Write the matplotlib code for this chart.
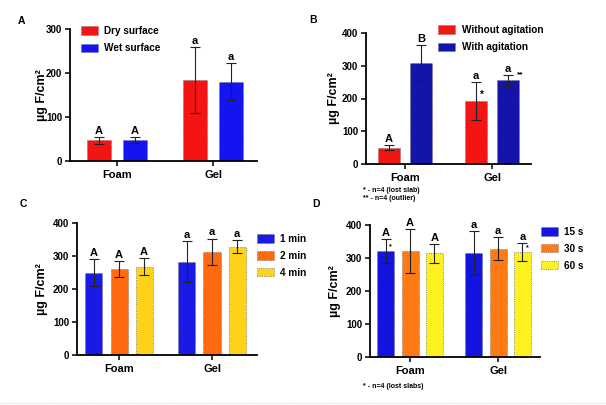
import matplotlib
matplotlib.use("Agg")
import matplotlib.pyplot as plt
from matplotlib.patches import Patch
import numpy as np

plt.rcParams['font.family'] = ['Liberation Sans', 'DejaVu Sans']
plt.rcParams['font.weight'] = 'bold'

groups = ["Foam", "Gel"]

# Panel A
a_series = ["Dry surface", "Wet surface"]
a_vals = [[47, 183], [47, 180]]
a_err = [[8, 75], [7, 42]]
a_letters = [["A", "a"], ["A", "a"]]
a_colors = ["#F41414", "#1414F0"]

# Panel B
b_series = ["Without agitation", "With agitation"]
b_vals = [[50, 192], [307, 255]]
b_err = [[8, 58], [55, 16]]
b_letters = [["A", "a"], ["B", "a"]]
b_colors = ["#F41414", "#1414AA"]

# Panel C
c_series = ["1 min", "2 min", "4 min"]
c_vals = [[250, 282], [261, 313], [267, 328]]
c_err = [[40, 62], [25, 40], [26, 20]]
c_letters = [["A", "a"], ["A", "a"], ["A", "a"]]
c_colors = ["#1A1AE6", "#FF6A10", "#FFD21A"]

# Panel D
d_series = ["15 s", "30 s", "60 s"]
d_vals = [[321, 316], [322, 328], [314, 318]]
d_err = [[36, 66], [67, 35], [29, 27]]
d_letters = [["A", "a"], ["A", "a"], ["A", "a"]]
d_colors = ["#1414E0", "#FF7A14", "#FFF020"]

W, H = 606, 405
fig = plt.figure(figsize=(W / 100, H / 100), dpi=100)


def px_axes(left, right, top, bottom):
    return fig.add_axes([left / W, 1 - bottom / H, (right - left) / W, (bottom - top) / H])


def panel(ax, vals, errs, letters, colors, offsets, width, xlim, ylim, yticks, ylab_x):
    x = np.arange(len(groups))
    for i, (v, e, col, off) in enumerate(zip(vals, errs, colors, offsets)):
        ax.bar(x + off, v, width=width, color=col, edgecolor="#666666",
               linewidth=0.6, linestyle=":", zorder=2)
        ax.errorbar(x + off, v, yerr=e, fmt="none", ecolor="#222222",
                    elinewidth=0.8, capsize=3.5, capthick=0.8, zorder=3)
        for j in range(len(groups)):
            ax.text(x[j] + off, v[j] + e[j] + ylim[1] * 0.008, letters[i][j],
                    ha="center", va="bottom", fontsize=8, fontweight="bold")
    ax.set_xlim(*xlim)
    ax.set_ylim(*ylim)
    ax.set_yticks(yticks)
    ax.set_xticks(x)
    ax.set_xticklabels(groups)
    for s in ["top", "right"]:
        ax.spines[s].set_visible(False)
    for s in ["left", "bottom"]:
        ax.spines[s].set_linewidth(1.3)
    ax.tick_params(axis="both", labelsize=7, width=1.1, length=3.5, pad=2)
    ax.tick_params(axis="x", labelsize=8, pad=3)
    for lbl in ax.get_xticklabels() + ax.get_yticklabels():
        lbl.set_fontweight("bold")
    ax.set_ylabel("µg F/cm²", fontsize=9, fontweight="bold")
    ax.yaxis.set_label_coords(ylab_x, 0.5)


def legend(series, colors, x, y, spacing):
    handles = [Patch(facecolor=c, edgecolor="#666666", linewidth=0.6, linestyle=":") for c in colors]
    fig.legend(handles, series, loc="upper left", bbox_to_anchor=(x / W, 1 - y / H),
               frameon=False, prop={"weight": "bold", "size": 7.2},
               handlelength=1.7, handleheight=0.9, handletextpad=0.65,
               labelspacing=spacing, borderpad=0, borderaxespad=0)


# A
axA = px_axes(70, 257, 29, 161)
panel(axA, a_vals, a_err, a_letters, a_colors, [-0.1875, 0.1875], 0.25,
      (-0.49, 1.458), (0, 300), [0, 100, 200, 300], -0.12)
legend(a_series, a_colors, 81, 26, 0.72)

# B
axB = px_axes(366, 531, 33, 164)
panel(axB, b_vals, b_err, b_letters, b_colors, [-0.184, 0.184], 0.253,
      (-0.448, 1.448), (0, 400), [0, 100, 200, 300, 400], -0.16)
legend(b_series, b_colors, 438, 25, 0.72)
axB.text(1 - 0.184 + 0.07, b_vals[0][1] + 3, "*", fontsize=7, fontweight="bold",
         ha="center", va="bottom")
axB.text(1 + 0.184 + 0.14, b_vals[1][1] + 6, "**", fontsize=6, fontweight="bold",
         ha="center", va="bottom")
fig.text(363 / W, 1 - 190 / H, "* - n=4 (lost slab)", fontsize=5, fontweight="bold",
         va="center", ha="left")
fig.text(363 / W, 1 - 198 / H, "** - n=4 (outlier)", fontsize=5, fontweight="bold",
         va="center", ha="left")

# C
axC = px_axes(77, 257, 223, 355)
panel(axC, c_vals, c_err, c_letters, c_colors, [-0.274, 0.0, 0.27], 0.183,
      (-0.452, 1.484), (0, 400), [0, 100, 200, 300, 400], -0.16)
legend(c_series, c_colors, 257, 234, 0.68)

# D
axD = px_axes(370, 540, 225, 357)
panel(axD, d_vals, d_err, d_letters, d_colors, [-0.278, 0.0, 0.278], 0.193,
      (-0.455, 1.477), (0, 400), [0, 100, 200, 300, 400], -0.17)
legend(d_series, d_colors, 541, 227, 0.68)
axD.text(0 - 0.278 + 0.05, d_vals[0][0] + 2, "*", fontsize=5, fontweight="bold",
         ha="center", va="bottom")
axD.text(1 + 0.278 + 0.05, d_vals[2][1] + 2, "*", fontsize=5, fontweight="bold",
         ha="center", va="bottom")
fig.text(363 / W, 1 - 387 / H, "* - n=4 (lost slabs)", fontsize=5, fontweight="bold",
         va="center", ha="left")

# Panel labels
for lab, (x, y) in {"A": (21, 21), "B": (313, 20), "C": (23, 204), "D": (316, 204)}.items():
    fig.text(x / W, 1 - y / H, lab, fontsize=7.5, fontweight="bold", ha="center", va="center")

# dotted separator line at bottom
fig.add_artist(plt.Line2D([0, 1], [1 - 403 / H, 1 - 403 / H], transform=fig.transFigure,
                          color="#BBBBBB", linewidth=0.6, linestyle=(0, (1, 2))))

fig.savefig("out.png", dpi=100)
